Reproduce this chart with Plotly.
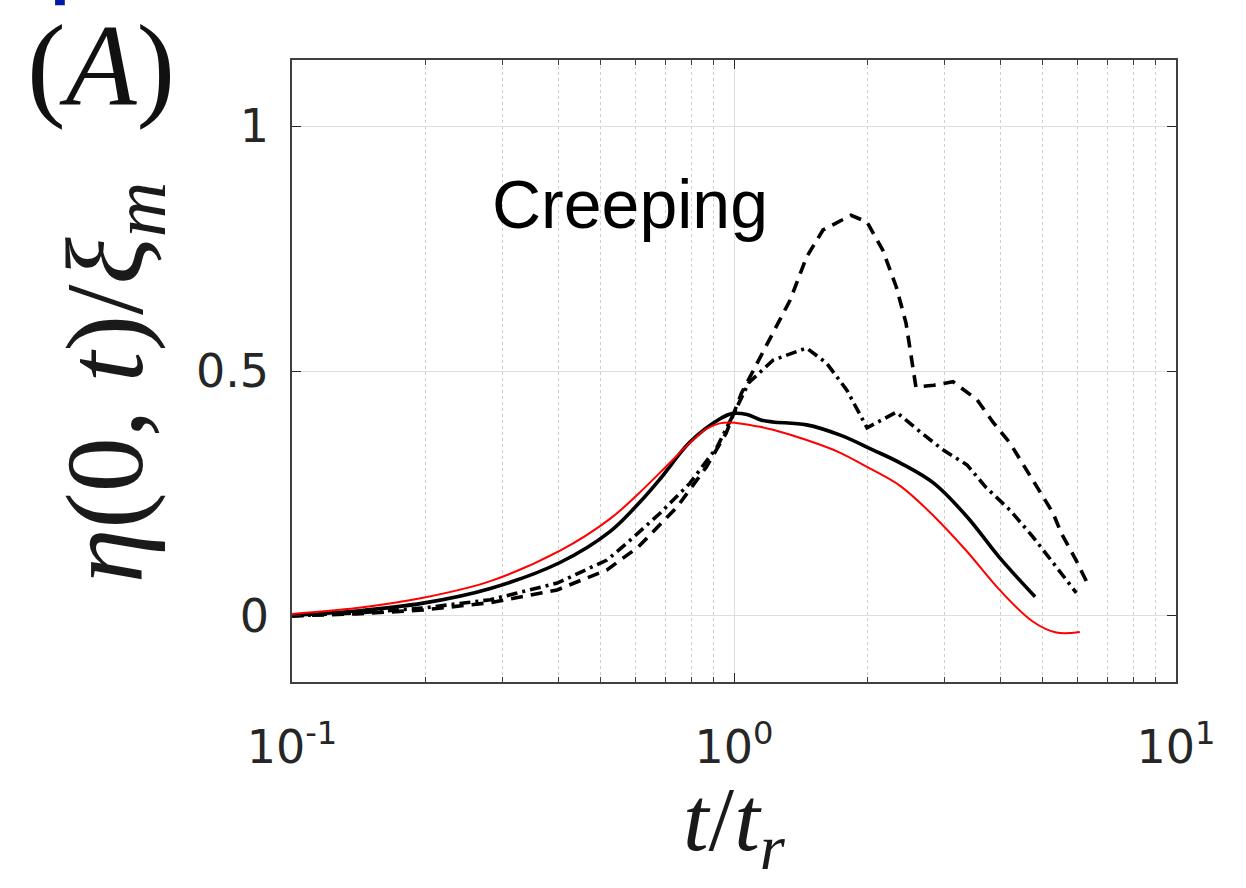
import plotly.graph_objects as go

# ---- data ----
t_red = [0.10, 0.14, 0.198, 0.281, 0.404, 0.524, 0.612, 0.681, 0.807, 0.866, 0.928, 0.98, 1.146, 1.225, 1.46, 1.74, 2.0, 2.38, 2.83, 3.37, 3.98, 4.75, 5.36, 6.06]
y_red = [0.004, 0.016, 0.037, 0.071, 0.133, 0.198, 0.252, 0.293, 0.359, 0.382, 0.393, 0.395, 0.386, 0.380, 0.359, 0.333, 0.304, 0.265, 0.204, 0.131, 0.054, -0.012, -0.034, -0.033]

t_solid = [0.10, 0.14, 0.198, 0.281, 0.404, 0.524, 0.612, 0.681, 0.795, 0.928, 0.99, 1.07, 1.15, 1.225, 1.46, 1.74, 2.06, 2.38, 2.83, 3.37, 3.98, 4.8]
y_solid = [0.001, 0.010, 0.026, 0.056, 0.109, 0.172, 0.232, 0.280, 0.355, 0.402, 0.413, 0.411, 0.400, 0.396, 0.390, 0.369, 0.339, 0.312, 0.271, 0.202, 0.120, 0.039]

t_dashdot = [0.10, 0.14, 0.198, 0.281, 0.398, 0.516, 0.573, 0.681, 0.795, 0.916, 1.0, 1.08, 1.225, 1.46, 1.62, 1.8, 2.0, 2.33, 2.66, 2.97, 3.37, 3.71, 4.21, 4.75, 5.36, 5.95]
y_dashdot = [0.0, 0.006, 0.016, 0.033, 0.067, 0.114, 0.149, 0.210, 0.271, 0.345, 0.414, 0.476, 0.522, 0.547, 0.516, 0.461, 0.384, 0.416, 0.373, 0.339, 0.308, 0.263, 0.216, 0.161, 0.100, 0.047]

t_dash = [0.10, 0.14, 0.198, 0.281, 0.398, 0.516, 0.606, 0.743, 0.866, 0.96, 1.04, 1.225, 1.34, 1.46, 1.59, 1.84, 2.0, 2.17, 2.33, 2.45, 2.58, 2.83, 3.13, 3.55, 3.85, 4.21, 4.85, 5.27, 5.5, 5.94, 6.3]
y_dash = [0.0, 0.004, 0.012, 0.027, 0.053, 0.094, 0.140, 0.222, 0.304, 0.373, 0.455, 0.578, 0.645, 0.733, 0.788, 0.818, 0.804, 0.747, 0.671, 0.598, 0.467, 0.471, 0.478, 0.441, 0.396, 0.353, 0.263, 0.210, 0.169, 0.114, 0.067]

x_tickvals = [0.1, 1, 10]
x_ticktext = ["10<sup>-1</sup>", "10<sup>0</sup>", "10<sup>1</sup>"]
x_minorvals = [0.2, 0.3, 0.4, 0.5, 0.6, 0.7, 0.8, 0.9, 2, 3, 4, 5, 6, 7, 8, 9]
y_tickvals = [0, 0.5, 1]
y_ticktext = ["0", "0.5", "1"]

fig = go.Figure()
fig.add_trace(go.Scatter(x=t_dash, y=y_dash, mode="lines",
                         line=dict(color="black", width=3.6, dash="12px,8px")))
fig.add_trace(go.Scatter(x=t_dashdot, y=y_dashdot, mode="lines",
                         line=dict(color="black", width=3.6, dash="11px,5px,3px,5px")))
fig.add_trace(go.Scatter(x=t_solid, y=y_solid, mode="lines",
                         line=dict(color="black", width=3.6, shape="spline", smoothing=1.0)))
fig.add_trace(go.Scatter(x=t_red, y=y_red, mode="lines",
                         line=dict(color="#ff0000", width=2, shape="spline", smoothing=1.0)))

axis_common = dict(showline=True, linecolor="#404040", linewidth=1.5, mirror="ticks",
                   ticks="inside", ticklen=9, tickcolor="#262626", tickwidth=1.2,
                   gridcolor="#dedede", gridwidth=1, zeroline=False,
                   tickfont=dict(family="DejaVu Sans", size=46, color="#262626"))

fig.update_xaxes(type="log", range=[-1, 1], tickvals=x_tickvals, ticktext=x_ticktext,
                 ticklabelstandoff=24,
                 minor=dict(tickvals=x_minorvals, ticks="inside", ticklen=5, tickcolor="#404040",
                            showgrid=True, griddash="dot", gridcolor="#cfcfcf", gridwidth=1),
                 **axis_common)
fig.update_yaxes(range=[-0.135, 1.135], tickvals=y_tickvals, ticktext=y_ticktext,
                 ticklabelstandoff=12, **axis_common)

serif = "Liberation Serif"
fig.add_annotation(xref="paper", yref="paper", x=-0.203, y=0.481, textangle=-90,
                   xanchor="center", yanchor="middle",
                   text="<i>η</i>(0, <i>t</i>)/<i>ξ<sub>m</sub></i>", showarrow=False,
                   font=dict(family=serif, size=110, color="#1a1a1a"))
fig.add_annotation(xref="paper", yref="paper", x=0.501, y=-0.327,
                   xanchor="center", yanchor="bottom",
                   text="<i>t</i>/<i>t<sub>r</sub></i>", showarrow=False,
                   font=dict(family=serif, size=92, color="#1a1a1a"))
fig.add_annotation(xref="paper", yref="paper", x=-0.216, y=0.99,
                   xanchor="center", yanchor="middle",
                   text="(<i>A</i>)", showarrow=False,
                   font=dict(family=serif, size=116, color="#111111"))
fig.add_annotation(xref="x", yref="y", x=-0.553, y=0.84, xanchor="left", yanchor="middle",
                   text="Creeping", showarrow=False,
                   font=dict(family="Liberation Sans", size=68, color="black"))
fig.add_shape(type="rect", xref="paper", yref="paper", x0=-0.268, x1=-0.257, y0=1.088, y1=1.1,
              fillcolor="#0019a8", line=dict(width=0))

fig.update_layout(width=1246, height=888, showlegend=False,
                  margin=dict(l=292, r=70, t=60, b=206),
                  plot_bgcolor="white", paper_bgcolor="white")

fig.write_html("out.html")
